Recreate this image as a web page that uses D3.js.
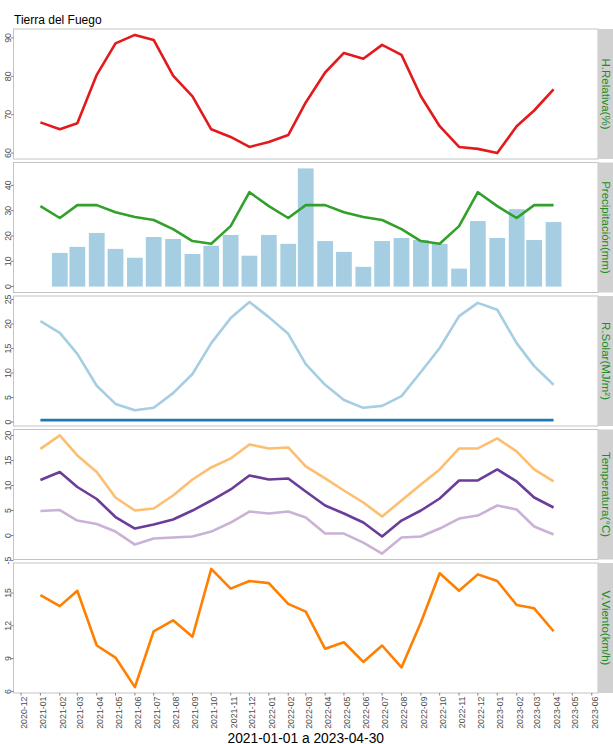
<!DOCTYPE html>
<html>
<head>
<meta charset="utf-8">
<script src="https://cdn.jsdelivr.net/npm/d3@7"></script>
<style>
  body { margin: 0; background: #fff; }
  svg { display: block; font-family: "Liberation Sans", Arial, sans-serif; }
</style>
</head>
<body>
<svg id="chart" width="613" height="744"></svg>
<script>
// Monthly series, Tierra del Fuego station
const meses = ["2021-01","2021-02","2021-03","2021-04","2021-05","2021-06","2021-07","2021-08","2021-09","2021-10","2021-11","2021-12",
               "2022-01","2022-02","2022-03","2022-04","2022-05","2022-06","2022-07","2022-08","2022-09","2022-10","2022-11","2022-12",
               "2023-01","2023-02","2023-03","2023-04"];
const etiquetasMes = ["2020-12","2021-01","2021-02","2021-03","2021-04","2021-05","2021-06","2021-07","2021-08","2021-09","2021-10","2021-11","2021-12",
                      "2022-01","2022-02","2022-03","2022-04","2022-05","2022-06","2022-07","2022-08","2022-09","2022-10","2022-11","2022-12",
                      "2023-01","2023-02","2023-03","2023-04","2023-05","2023-06"];

const humedad = [68.0, 66.2, 67.8, 80.4, 88.6, 90.8, 89.5, 80.2, 74.8, 66.2, 64.2, 61.6, 62.9, 64.7, 73.2, 81.0, 86.1, 84.6, 88.2, 85.6, 74.8, 67.0, 61.6, 61.1, 60.0, 67.0, 71.1, 76.6];
const precipitacion = [null, 13.3, 15.7, 21.2, 14.9, 11.4, 19.6, 18.8, 12.9, 16.1, 20.4, 12.2, 20.4, 16.9, 46.7, 18.0, 13.7, 7.8, 18.0, 19.2, 18.4, 16.9, 7.1, 25.9, 19.2, 30.6, 18.4, 25.5];
const precipNormal = [31.8, 27.1, 32.2, 32.2, 29.4, 27.5, 26.3, 22.7, 18.0, 16.9, 23.9, 37.3, 31.8, 27.1, 32.2, 32.2, 29.4, 27.5, 26.3, 22.7, 18.0, 16.9, 23.9, 37.3, 31.8, 27.1, 32.2, 32.2];
const radiacion = [20.6, 18.2, 13.9, 7.4, 3.7, 2.4, 2.9, 5.9, 9.8, 16.1, 21.2, 24.5, 21.4, 18.0, 11.8, 7.6, 4.5, 2.9, 3.3, 5.3, 10.2, 15.1, 21.6, 24.3, 22.9, 16.1, 11.4, 7.6];
const radiacionBase = [0.4, 0.4, 0.4, 0.4, 0.4, 0.4, 0.4, 0.4, 0.4, 0.4, 0.4, 0.4, 0.4, 0.4, 0.4, 0.4, 0.4, 0.4, 0.4, 0.4, 0.4, 0.4, 0.4, 0.4, 0.4, 0.4, 0.4, 0.4];
const tempMax = [17.3, 20.0, 16.0, 12.7, 7.6, 5.0, 5.4, 8.0, 11.2, 13.6, 15.4, 18.2, 17.4, 17.6, 13.8, 11.4, 9.0, 6.6, 3.8, 7.0, 10.2, 13.2, 17.4, 17.4, 19.4, 16.8, 13.2, 10.8];
const tempMedia = [11.1, 12.7, 9.7, 7.3, 3.7, 1.4, 2.2, 3.2, 5.0, 7.0, 9.2, 12.0, 11.2, 11.4, 8.8, 6.0, 4.4, 2.6, -0.2, 3.0, 5.0, 7.4, 11.0, 11.0, 13.2, 10.8, 7.6, 5.6];
const tempMin = [4.9, 5.1, 3.0, 2.3, 0.8, -1.8, -0.6, -0.4, -0.2, 0.8, 2.6, 4.8, 4.4, 4.8, 3.6, 0.4, 0.4, -1.4, -3.6, -0.4, -0.2, 1.4, 3.4, 4.0, 6.0, 5.2, 1.8, 0.2];
const viento = [14.8, 13.8, 15.2, 10.2, 9.1, 6.4, 11.5, 12.5, 11.0, 17.2, 15.4, 16.1, 15.9, 14.0, 13.3, 9.9, 10.5, 8.7, 10.2, 8.2, 12.3, 16.8, 15.2, 16.7, 16.1, 13.9, 13.6, 11.5];

const ticksHumedad = [60, 70, 80, 90];
const ticksPrecip = [0, 10, 20, 30, 40];
const ticksRadiacion = [0, 5, 10, 15, 20, 25];
const ticksTemp = [-5, 0, 5, 10, 15, 20];
const ticksViento = [6, 9, 12, 15];

const titulo = "Tierra del Fuego";
const tituloX = "2021-01-01 a 2023-04-30";

const paneles = [
  { etiqueta: "H.Relativa(%)", ticks: ticksHumedad, series: [{ v: humedad, color: "#E31A1C" }] },
  { etiqueta: "Precipitación(mm)", ticks: ticksPrecip, barras: precipitacion, series: [{ v: precipNormal, color: "#33A02C" }] },
  { etiqueta: "R.Solar(MJ/m²)", ticks: ticksRadiacion, series: [{ v: radiacion, color: "#A6CEE3" }, { v: radiacionBase, color: "#1F78B4" }] },
  { etiqueta: "Temperatura(°C)", ticks: ticksTemp, series: [{ v: tempMax, color: "#FDBF6F" }, { v: tempMin, color: "#CAB2D6" }, { v: tempMedia, color: "#6A3D9A" }] },
  { etiqueta: "V.Viento(km/h)", ticks: ticksViento, series: [{ v: viento, color: "#FF7F00" }] }
];

// ---- layout ----
const svg = d3.select("#chart");
const izq = 13.5, der = 598, anchoTira = 15;
const arriba = 29, altoPanel = 130, separacion = 3.5;
const textoGris = "#4D4D4D";

const parseMes = d3.utcParse("%Y-%m");
const fechas = meses.map(parseMes);
const DIA = 864e5;

const x = d3.scaleUtc()
  .domain([new Date(Date.UTC(2020, 10, 19)), new Date(Date.UTC(2023, 5, 11))])
  .range([izq, der]);

// title
svg.append("text").attr("x", 14).attr("y", 24)
  .attr("font-size", 12).attr("fill", "#000").text(titulo);

paneles.forEach((p, i) => {
  const y0 = arriba + i * (altoPanel + separacion);
  const y1 = y0 + altoPanel;
  const g = svg.append("g");

  // free y scale with 5% padding on the data range
  const todos = [];
  p.series.forEach(s => s.v.forEach(d => todos.push(d)));
  if (p.barras) { p.barras.forEach(d => { if (d != null) todos.push(d); }); todos.push(0); }
  const [mn, mx] = d3.extent(todos);
  const pad = (mx - mn) * 0.05;
  const y = d3.scaleLinear().domain([mn - pad, mx + pad]).range([y1, y0]);

  g.append("rect").attr("x", izq).attr("y", y0).attr("width", der - izq).attr("height", altoPanel)
    .attr("fill", "#fff");

  // bars
  if (p.barras) {
    const media = 0.45 * 28 * DIA;
    g.selectAll("rect.barra").data(p.barras.map((v, k) => ({ v, f: fechas[k] })).filter(d => d.v != null))
      .join("rect").attr("class", "barra")
      .attr("x", d => x(new Date(+d.f - media)))
      .attr("width", d => x(new Date(+d.f + media)) - x(new Date(+d.f - media)))
      .attr("y", d => y(d.v))
      .attr("height", d => y(0) - y(d.v))
      .attr("fill", "#A6CEE3");
  }

  // lines
  const linea = d3.line().x((d, k) => x(fechas[k])).y(d => y(d));
  p.series.forEach(s => {
    g.append("path").attr("d", linea(s.v)).attr("fill", "none")
      .attr("stroke", s.color).attr("stroke-width", 2.6)
      .attr("stroke-linejoin", "round");
  });

  // panel border
  g.append("rect").attr("x", izq).attr("y", y0).attr("width", der - izq).attr("height", altoPanel)
    .attr("fill", "none").attr("stroke", "#C4C4C4").attr("stroke-width", 1);

  // y axis ticks and labels
  p.ticks.forEach(t => {
    const yy = y(t);
    g.append("line").attr("x1", izq - 2.5).attr("x2", izq).attr("y1", yy).attr("y2", yy)
      .attr("stroke", "#666").attr("stroke-width", 0.8);
    g.append("text").attr("transform", `translate(${izq - 3},${yy}) rotate(-90)`)
      .attr("text-anchor", "middle").attr("font-size", 8.8).attr("fill", textoGris).text(t);
  });

  // strip on the right
  g.append("rect").attr("x", der).attr("y", y0).attr("width", anchoTira).attr("height", altoPanel)
    .attr("fill", "#D0D0D0");
  g.append("text").attr("transform", `translate(${der + 3.5},${(y0 + y1) / 2}) rotate(90)`)
    .attr("text-anchor", "middle").attr("font-size", 11.5).attr("fill", "#228B22")
    .text(p.etiqueta);
});

// x axis under the last panel
const yBase = arriba + 5 * altoPanel + 4 * separacion;
etiquetasMes.forEach(m => {
  const xx = x(parseMes(m));
  svg.append("line").attr("x1", xx).attr("x2", xx).attr("y1", yBase).attr("y2", yBase + 2.5)
    .attr("stroke", "#666").attr("stroke-width", 0.8);
  svg.append("text").attr("transform", `translate(${xx + 6},${yBase + 3.5}) rotate(-90)`)
    .attr("text-anchor", "end").attr("font-size", 8.8).attr("fill", textoGris).text(m);
});

svg.append("text").attr("x", (izq + der) / 2).attr("y", 742.5)
  .attr("text-anchor", "middle").attr("font-size", 13.8).attr("fill", "#000").text(tituloX);
</script>
</body>
</html>
